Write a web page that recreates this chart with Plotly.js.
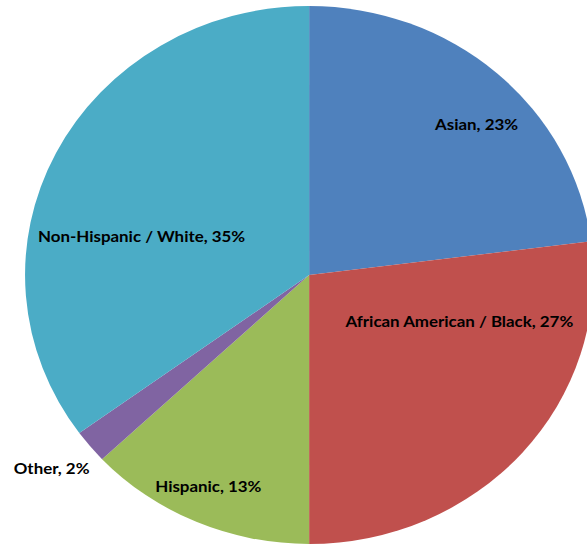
<!DOCTYPE html>
<html>
<head>
<meta charset="utf-8">
<script src="https://cdn.plot.ly/plotly-3.0.1.min.js"></script>
<style>
html, body { margin: 0; padding: 0; width: 587px; height: 546px; overflow: hidden; background: #fff; }
#wrap { width: 587px; height: 546px; overflow: hidden; }
#chart { width: 600px; height: 546px; transform: scaleX(1.056); transform-origin: 0 0; }
</style>
</head>
<body>
<div id="wrap"><div id="chart"></div></div>
<script>
const categories = ["Asian", "African American / Black", "Hispanic", "Other", "Non-Hispanic / White"];
const shares = [23, 27, 13, 2, 35];
const sliceColors = ["#4F81BD", "#C0504D", "#9BBB59", "#8064A2", "#4BACC6"];
// label anchor positions (paper fractions), layout only
const labelX = [0.7513, 0.7245, 0.3299, 0.0821, 0.2225];
const labelY = [0.7729, 0.4121, 0.1099, 0.1429, 0.5678];

const trace = {
  type: "pie",
  labels: categories,
  values: shares,
  sort: false,
  direction: "clockwise",
  rotation: 0,
  marker: { colors: sliceColors, line: { width: 0 } },
  textinfo: "none",
  hoverinfo: "label+percent",
  showlegend: false,
  domain: { x: [0.0395, 0.9362], y: [0.0037, 0.989] }
};

const annotations = categories.map((c, i) => ({
  xref: "paper", yref: "paper",
  x: labelX[i], y: labelY[i],
  xanchor: "center", yanchor: "middle",
  showarrow: false,
  text: c + ", " + shares[i] + "%",
  font: { family: "Lato, 'Open Sans', sans-serif", size: 16, color: "#000000", weight: "bold" }
}));

const layout = {
  width: 600,
  height: 546,
  margin: { l: 0, r: 0, t: 0, b: 0 },
  paper_bgcolor: "#ffffff",
  showlegend: false,
  annotations: annotations
};

Plotly.newPlot("chart", [trace], layout, { staticPlot: true, displayModeBar: false });
</script>
</body>
</html>
